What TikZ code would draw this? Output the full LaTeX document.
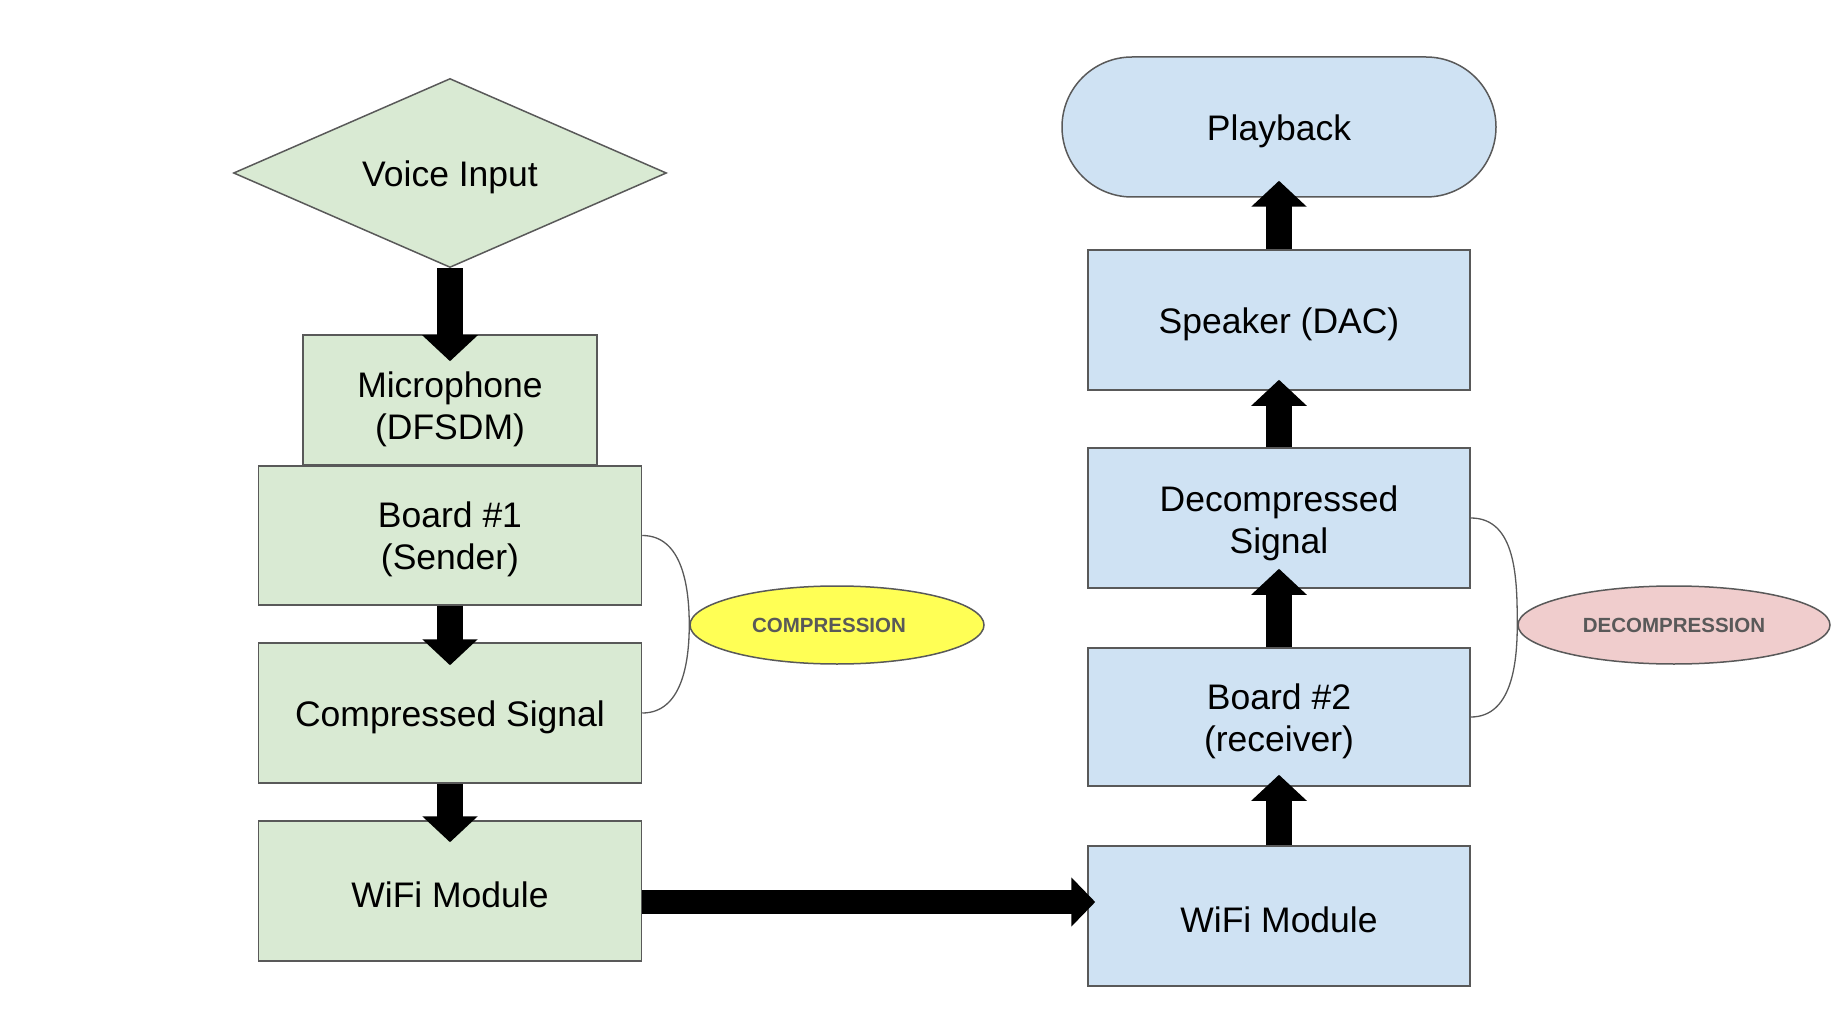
\documentclass[tikz,border=0pt]{standalone}
\usepackage{fontspec}
\setmainfont{Liberation Sans}
\usetikzlibrary{shapes.geometric,arrows.meta}

\definecolor{grn}{HTML}{D9EAD3}
\definecolor{blu}{HTML}{CFE2F3}
\definecolor{ylw}{HTML}{FFFF55}
\definecolor{pnk}{HTML}{F0CDCD}
\definecolor{edge}{HTML}{595959}

% baixa una mica el text dins la caixa
\newcommand{\dn}[1]{\rule{0pt}{#1}}

\tikzset{
	drop/.style={execute at begin node={\rule{0pt}{#1}}},
	box/.style={draw=edge,line width=1.5pt,rectangle,inner sep=0pt,align=center,
		font=\fontsize{35.5}{42}\selectfont,drop=34pt},
	sendbox/.style={box,fill=grn,minimum width=383pt,minimum height=140pt},
	recvbox/.style={box,fill=blu,minimum width=382pt,minimum height=140pt},
	tag/.style={draw=edge,line width=1.5pt,ellipse,inner sep=0pt,minimum height=78pt,
		text=edge,font=\fontsize{20.5}{25}\selectfont\bfseries},
	bigarrow/.style={line width=26pt,black,-{Triangle[width=54pt,length=26pt]}},
	brace/.style={draw=edge,line width=1.3pt}
}

\begin{document}
\begin{tikzpicture}[x=1pt,y=-1pt]
		\useasboundingbox (0,0) rectangle (1840,1032);

		% Lado emisor
		\node[box,diamond,aspect=2.3,fill=grn,minimum width=433pt,minimum height=189pt] (voice) at (450,173) {Voice Input};
		\node[box,fill=grn,minimum width=294pt,minimum height=130pt] (mic) at (450,400) {\dn{44pt}Microphone\\(DFSDM)};
		\node[sendbox,minimum height=139pt] (board1) at (450,535.5) {\dn{34pt}Board \#1\\(Sender)};
		\node[sendbox] (comp) at (450,713) {Compressed Signal};
		\node[sendbox] (wifiL) at (450,891) {WiFi Module};

		% Lado receptor
		\node[box,fill=blu,rounded corners=70pt,minimum width=434pt,minimum height=140pt] (play) at (1279,127) {Playback};
		\node[recvbox] (speaker) at (1279,320) {Speaker (DAC)};
		\node[recvbox] (decomp) at (1279,518) {\dn{36pt}Decompressed\\Signal};
		\node[recvbox,minimum height=138pt] (board2) at (1279,717) {\dn{35pt}Board \#2\\(receiver)};
		\node[recvbox] (wifiR) at (1279,916) {WiFi Module};

		% Etiquetes
		\node[tag,fill=ylw,minimum width=294pt,execute at end node={\hspace*{16pt}}] (compE) at (837,625) {COMPRESSION};
		\node[tag,fill=pnk,minimum width=312pt] (decompE) at (1674,625) {DECOMPRESSION};

		\draw[brace] (board1.east) to[out=0,in=90] (compE.west) to[out=-90,in=0] (comp.east);
		\draw[brace] (decomp.east) to[out=0,in=90] (decompE.west) to[out=-90,in=0] (board2.east);

		% Fletxes
		\foreach \a/\b/\d in {voice/mic/27,board1/comp/23,comp/wifiL/22} {
			\draw[bigarrow] (\a.south) -- ([yshift=-\d pt]\b.north);
		}
		\foreach \a/\b/\d in {wifiR/board2/12,board2/decomp/20,decomp/speaker/11,speaker/play/17} {
			\draw[bigarrow] (\a.north) -- ([yshift=\d pt]\b.south);
		}
		\draw[bigarrow,line width=24pt,-{Triangle[width=48pt,length=24pt]},shorten >=-8pt]
			([yshift=-11pt]wifiL.east) -- ([yshift=-11pt]wifiL.east -| wifiR.west);
	\end{tikzpicture}
\end{document}
